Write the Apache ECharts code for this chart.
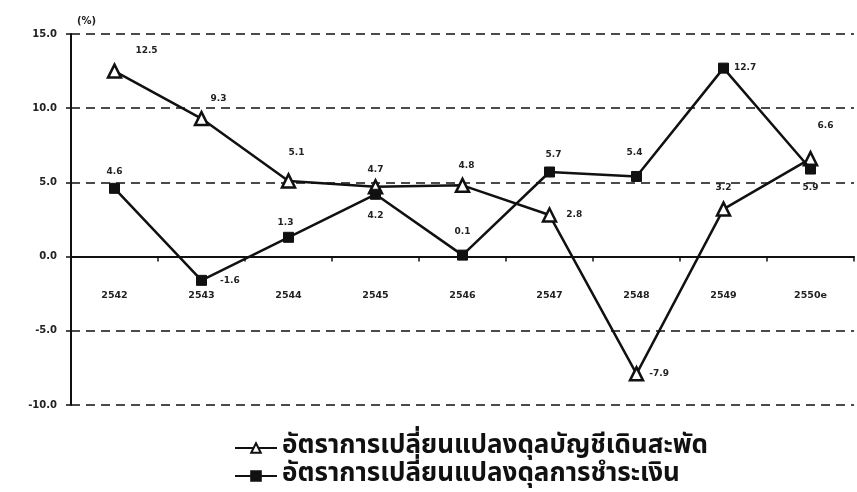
<!DOCTYPE html>
<html><head><meta charset="utf-8">
<script src="https://cdn.jsdelivr.net/npm/echarts@6/dist/echarts.min.js"></script>
<style>html,body{margin:0;padding:0;background:#fff}#c{width:857px;height:492px}</style>
</head><body><div id="c"></div>
<script>
var categories = ['2542','2543','2544','2545','2546','2547','2548','2549','2550e'];
var currentAccount = [12.5, 9.3, 5.1, 4.7, 4.8, 2.8, -7.9, 3.2, 6.6];
var balancePayments = [4.6, -1.6, 1.3, 4.2, 0.1, 5.7, 5.4, 12.7, 5.9];
var seriesNames = ['อัตราการเปลี่ยนแปลงดุลบัญชีเดินสะพัด','อัตราการเปลี่ยนแปลงดุลการชำระเงิน'];
var yTicks = [-10, -5, 0, 5, 10, 15];

var caLabel = [['top',[32,-3]],['top',[17,-3]],['top',[8,-11]],['top',[0,0]],['top',[4,-2]],['right',[4,0]],['right',[0,0]],['top',[0,-4]],['top',[15,-16]]];
var bpLabel = [['top',[0,-2]],['right',[8,0]],['top',[-3,0]],['bottom',[0,6]],['top',[0,-8]],['top',[4,-2]],['top',[-2,-9]],['right',[0,0]],['bottom',[0,4]]];

function build(vals, lab){
  return vals.map(function(v,i){
    return {value:v, label:{position:lab[i][0], offset:lab[i][1]}};
  });
}
var font = 'DejaVu Sans';
var chart = echarts.init(document.getElementById('c'));
chart.setOption({
  animation:false,
  backgroundColor:'#fff',
  grid:{left:71, right:3, top:34, bottom:87},
  legend:{
    orient:'vertical', left:234, top:435, padding:0, height:60, itemGap:2, itemWidth:42, itemHeight:12,
    textStyle:{fontFamily:'Noto Sans Thai, Noto Sans, DejaVu Sans, sans-serif', fontWeight:'bold', fontSize:26, lineHeight:26, color:'#111'},
    data:seriesNames
  },
  xAxis:{
    type:'category', data:categories, boundaryGap:true,
    axisLine:{onZero:true, lineStyle:{color:'#111', width:2}},
    axisTick:{show:true, inside:false, length:5, lineStyle:{color:'#111', width:1.5}},
    axisLabel:{margin:-114, fontFamily:font, fontWeight:'bold', fontSize:9.5, color:'#222'},
    splitLine:{show:false}
  },
  yAxis:{
    type:'value', min:-10, max:15, interval:5,
    name:'(%)', nameLocation:'end', nameGap:8,
    nameTextStyle:{fontFamily:font, fontWeight:'bold', fontSize:10, color:'#222', align:'left', padding:[0,0,0,6]},
    axisLine:{show:true, lineStyle:{color:'#111', width:2}},
    axisTick:{show:true, length:5, lineStyle:{color:'#111', width:1.5}},
    axisLabel:{margin:14, fontFamily:font, fontWeight:'bold', fontSize:10, color:'#222',
      formatter:function(v){return v.toFixed(1);}},
    splitLine:{show:true, lineStyle:{color:'#111', width:1.5, type:[9,6]}}
  },
  series:[{
    name:seriesNames[0], type:'line', data:build(currentAccount, caLabel),
    symbol:'triangle', symbolSize:13,
    lineStyle:{color:'#111', width:2.5},
    itemStyle:{color:'#fff', borderColor:'#111', borderWidth:2.5},
    label:{show:true, fontFamily:font, fontWeight:'bold', fontSize:9, color:'#222',
      formatter:function(p){return p.value.toFixed(1);}},
    z:3
  },{
    name:seriesNames[1], type:'line', data:build(balancePayments, bpLabel),
    symbol:'rect', symbolSize:10,
    lineStyle:{color:'#111', width:2.5},
    itemStyle:{color:'#111', borderColor:'#111', borderWidth:1},
    label:{show:true, fontFamily:font, fontWeight:'bold', fontSize:9, color:'#222',
      formatter:function(p){return p.value.toFixed(1);}},
    z:4
  }]
});
</script></body></html>
